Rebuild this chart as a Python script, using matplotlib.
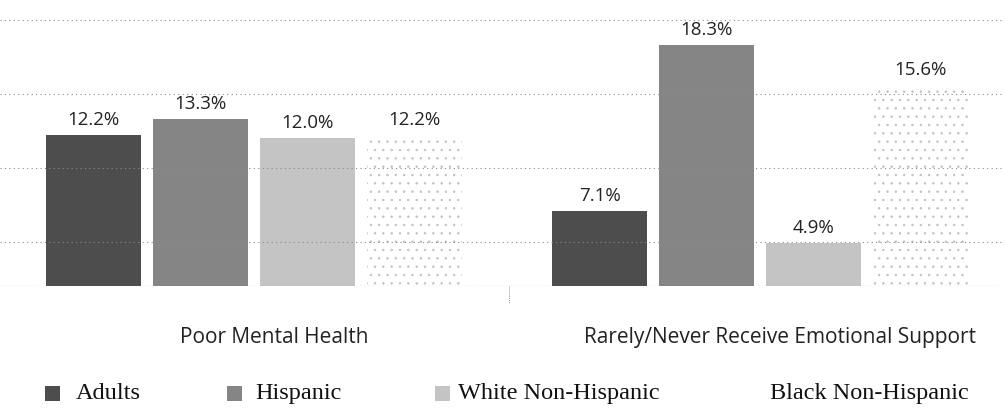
import numpy as np
import matplotlib.pyplot as plt
from matplotlib.patches import Rectangle
from matplotlib.transforms import blended_transform_factory

categories = ['Poor Mental Health', 'Rarely/Never Receive Emotional Support']
groups = ['Adults', 'Hispanic', 'White Non-Hispanic', 'Black Non-Hispanic']
adults = [12.2, 7.1]
hispanic = [13.3, 18.3]
white_nh = [12.0, 4.9]
black_nh = [12.2, 15.6]
gridlines = [5, 10, 15, 20]

series = [adults, hispanic, white_nh, black_nh]
faces = ['#4d4d4d', '#858585', '#c4c4c4', 'none']
edges = ['none', 'none', 'none', '#c0c0c0']
hatches = [None, None, None, '..']

sans = ['Open Sans', 'DejaVu Sans']
serif = ['Liberation Serif', 'DejaVu Serif']

plt.rcParams['hatch.linewidth'] = 0.5

fig = plt.figure(figsize=(10.05, 4.10), dpi=100)
ax = fig.add_axes([0.0, 0.30, 1.0, 0.70])

x = np.arange(len(categories))
step = 0.2115
width = 0.188

for i, vals in enumerate(series):
    pos = x + (i - 1.5) * step
    bars = ax.bar(pos, vals, width, color=faces[i], edgecolor=edges[i],
                  linewidth=0, hatch=hatches[i], zorder=2)
    for b, v in zip(bars, vals):
        ax.annotate(f'{v:.1f}%', (b.get_x() + b.get_width() / 2, v),
                    xytext=(0, 5), textcoords='offset points', ha='center', va='bottom',
                    fontsize=13.5, family=sans, color='#222222', zorder=3)

ax.set_ylim(2, 21.39)
ax.set_xlim(-0.502, 1.484)
for g in gridlines:
    ax.axhline(g, color='#8a8a8a', linestyle=(0, (1, 3)), linewidth=0.8, zorder=2.5)
ax.axhline(2, color='#888888', linestyle=(0, (1, 2)), linewidth=0.9, zorder=3)

for s in ax.spines.values():
    s.set_visible(False)
ax.set_yticks([])
ax.set_xticks([])

tr = blended_transform_factory(ax.transData, ax.transAxes)
ax.plot([0.504, 0.504], [0, -0.06], color='#999999', linewidth=0.7,
        linestyle=(0, (1, 1)), transform=tr, clip_on=False)

for xi, cat in zip(x, categories):
    ax.text(xi + 0.04, -0.175, cat, transform=tr, ha='center', va='center',
            fontsize=15, family=sans, color='#222222')

# legend placed by hand
sq_x = [0.045, 0.226, 0.433, None]
txt_x = [0.075, 0.254, 0.456, 0.766]
for i, name in enumerate(groups):
    if sq_x[i] is not None:
        fig.patches.append(Rectangle((sq_x[i], 0.0195), 0.015, 0.037,
                                     transform=fig.transFigure, facecolor=faces[i],
                                     edgecolor='none'))
    fig.text(txt_x[i], 0.04, name, ha='left', va='center',
             fontsize=17.5, family=serif, color='#111111')

fig.savefig('out.png', dpi=100)
